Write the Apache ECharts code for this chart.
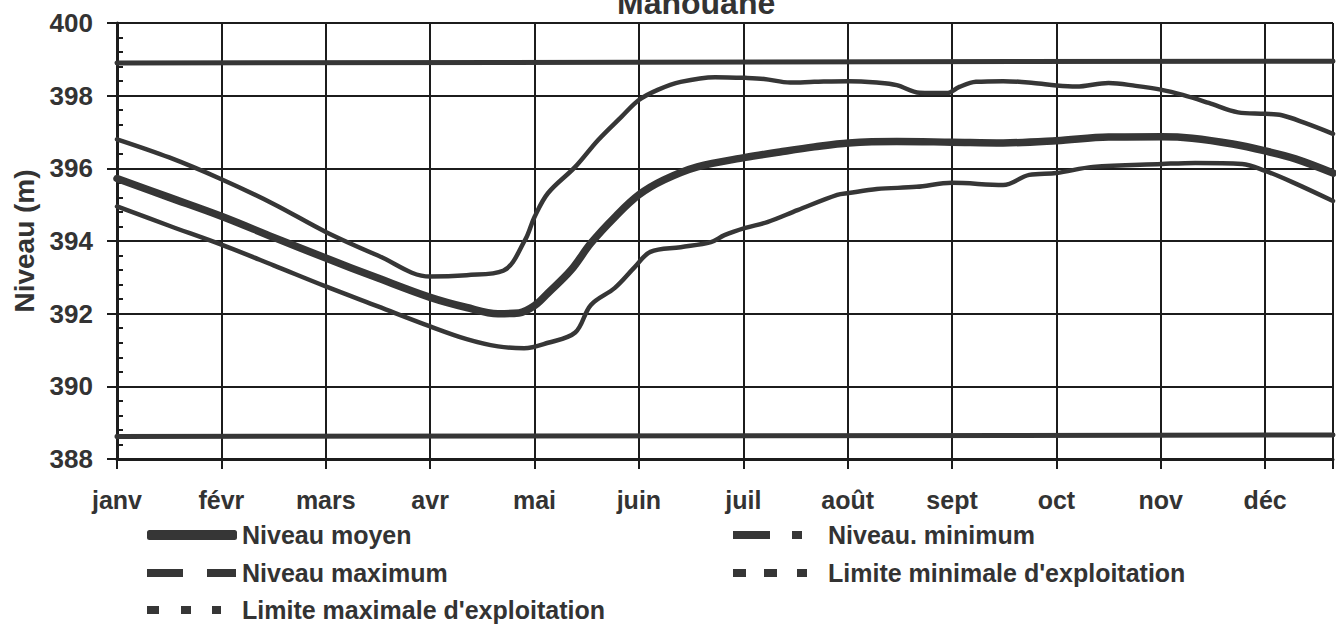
<!DOCTYPE html>
<html><head><meta charset="utf-8">
<script src="https://cdn.jsdelivr.net/npm/echarts@6/dist/echarts.min.js"></script>
<style>html,body{margin:0;padding:0;background:#fff}#c{width:1336px;height:624px}</style>
</head><body><div id="c"></div>
<script>
// x positions are in months from 1 January (0 = janv, 1 = févr, ...)
const months = ['janv','févr','mars','avr','mai','juin','juil','août','sept','oct','nov','déc'];

const moyenX = [0, 0.5, 1, 1.5, 2, 2.5, 3, 3.35, 3.65, 3.85, 4.0, 4.13, 4.35, 4.54, 4.77, 5.0, 5.24, 5.56, 6.02, 6.35, 6.68, 7.01, 7.47, 8.0, 8.49, 9.0, 9.5, 10.01, 10.3, 10.69, 11.0, 11.29, 11.65];
const moyenY = [395.72, 395.2, 394.68, 394.1, 393.53, 392.98, 392.45, 392.17, 392.0, 392.02, 392.22, 392.57, 393.2, 393.94, 394.66, 395.27, 395.68, 396.04, 396.3, 396.45, 396.59, 396.70, 396.74, 396.72, 396.70, 396.76, 396.86, 396.87, 396.83, 396.67, 396.48, 396.26, 395.87];

const maxX = [0, 0.5, 1, 1.5, 2, 2.5, 3, 3.35, 3.70, 3.91, 4.0, 4.13, 4.39, 4.61, 4.83, 5.0, 5.18, 5.4, 5.73, 6.02, 6.2, 6.45, 6.68, 7.01, 7.28, 7.47, 7.69, 7.95, 8.07, 8.23, 8.49, 8.78, 9.0, 9.19, 9.5, 9.76, 10.01, 10.21, 10.46, 10.74, 11.0, 11.16, 11.38, 11.65];
const maxY = [396.8, 396.3, 395.7, 395.02, 394.25, 393.6, 393.02, 393.06, 393.18, 394.03, 394.66, 395.32, 396.04, 396.78, 397.41, 397.88, 398.16, 398.38, 398.51, 398.49, 398.46, 398.36, 398.38, 398.4, 398.36, 398.29, 398.08, 398.07, 398.24, 398.38, 398.4, 398.35, 398.28, 398.25, 398.35, 398.27, 398.16, 398.02, 397.8, 397.54, 397.5, 397.46, 397.25, 396.95];

const minX = [0, 0.5, 1, 1.5, 2, 2.5, 3, 3.35, 3.65, 3.9, 4.13, 4.39, 4.54, 4.77, 4.96, 5.11, 5.4, 5.69, 5.82, 6.02, 6.23, 6.52, 6.9, 7.01, 7.28, 7.66, 8.0, 8.49, 8.74, 9.0, 9.35, 10.01, 10.33, 10.78, 11.0, 11.26, 11.65];
const minY = [394.95, 394.42, 393.9, 393.33, 392.75, 392.2, 391.65, 391.3, 391.1, 391.05, 391.2, 391.48, 392.24, 392.71, 393.28, 393.70, 393.83, 393.97, 394.16, 394.36, 394.52, 394.85, 395.27, 395.32, 395.43, 395.49, 395.6, 395.54, 395.82, 395.87, 396.04, 396.12, 396.15, 396.12, 395.93, 395.62, 395.1];

const limX = [0, 11.65];
const limMaxY = [398.9, 398.95];
const limMinY = [388.62, 388.66];

const FONT = "'Liberation Sans', Arial, sans-serif";
const INK = '#363636';
const GRID = '#1c1c1c';

const pts = (xs, ys) => xs.map((x, i) => [x, ys[i]]);

const iconMax = 'path://M0,0H36V8H0Z M60,0H89V8H60Z M89.99,4H90V4.01H89.99Z';
const iconLimMax = 'path://M0,0H12V8H0Z M34,0H44V8H34Z M65,0H74V8H65Z M89.99,4H90V4.01H89.99Z';
const iconMin = 'path://M0,0H37V8H0Z M59,0H69V8H59Z M89.99,4H90V4.01H89.99Z';
const iconLimMin = 'path://M0,0H13V8H0Z M31,0H44V8H31Z M64,0H74V8H64Z M89.99,4H90V4.01H89.99Z';

function line(name, xs, ys, width) {
  return {
    name, type: 'line', data: pts(xs, ys), showSymbol: false, symbol: 'none',
    smooth: 0.35, color: INK,
    lineStyle: { color: INK, width, cap: 'round', join: 'round' },
    z: 5
  };
}

const legendText = { fontSize: 25, fontWeight: 'bold', color: '#333', fontFamily: FONT, lineHeight: 26 };
function leg(left, top, name, icon, h) {
  return { left, top, orient: 'horizontal', padding: 0, selectedMode: false,
    itemWidth: 90, itemHeight: h || 9, textStyle: legendText, data: [{ name, icon }] };
}

const chart = echarts.init(document.getElementById('c'), null, { renderer: 'svg' });
chart.setOption({
  animation: false,
  backgroundColor: '#fff',
  title: { text: 'Manouane', left: 617, top: -13, padding: 0,
    textStyle: { fontSize: 32, fontWeight: 'bold', color: '#333', fontFamily: FONT } },
  grid: { left: 117, right: 0, top: 23, bottom: 165, containLabel: false },
  xAxis: {
    type: 'value', min: 0, max: 11.65, interval: 1,
    axisLine: { show: true, lineStyle: { color: GRID, width: 3 } },
    axisTick: { show: true, length: 10, lineStyle: { color: GRID, width: 2 } },
    axisLabel: { margin: 28, fontSize: 25, fontWeight: 'bold', color: '#333', fontFamily: FONT,
      formatter: v => (Math.abs(v - Math.round(v)) < 1e-6 && months[Math.round(v)]) ? months[Math.round(v)] : '' },
    splitLine: { show: true, lineStyle: { color: GRID, width: 2 } }
  },
  yAxis: [{
    type: 'value', min: 388, max: 400, interval: 2, position: 'left',
    name: 'Niveau (m)', nameLocation: 'middle', nameGap: 77, nameRotate: 90,
    nameTextStyle: { fontSize: 28, fontWeight: 'bold', color: '#333', fontFamily: FONT },
    axisLine: { show: true, lineStyle: { color: GRID, width: 3 } },
    axisTick: { show: true, length: 10, lineStyle: { color: GRID, width: 2 } },
    axisLabel: { margin: 24, fontSize: 26, fontWeight: 'bold', color: '#333', fontFamily: FONT },
    splitLine: { show: true, lineStyle: { color: GRID, width: 2 } }
  }, {
    type: 'value', min: 388, max: 400, interval: 2, position: 'left', offset: 0,
    axisLine: { show: false }, axisLabel: { show: false },
    axisTick: { show: false, inside: true },
    minorTick: { show: true, splitNumber: 5, length: 6, lineStyle: { color: GRID, width: 2 } },
    splitLine: { show: false }
  }],
  legend: [
    leg(147, 522, 'Niveau moyen', 'roundRect', 10),
    leg(147, 560, 'Niveau maximum', iconMax),
    leg(147, 597, "Limite maximale d'exploitation", iconLimMax),
    leg(733, 522, 'Niveau. minimum', iconMin),
    leg(733, 560, "Limite minimale d'exploitation", iconLimMin)
  ],
  series: [
    line('Niveau moyen', moyenX, moyenY, 7.5),
    line('Niveau maximum', maxX, maxY, 4.5),
    line("Limite maximale d'exploitation", limX, limMaxY, 5),
    line('Niveau. minimum', minX, minY, 4.5),
    line("Limite minimale d'exploitation", limX, limMinY, 5)
  ]
});
</script></body></html>
